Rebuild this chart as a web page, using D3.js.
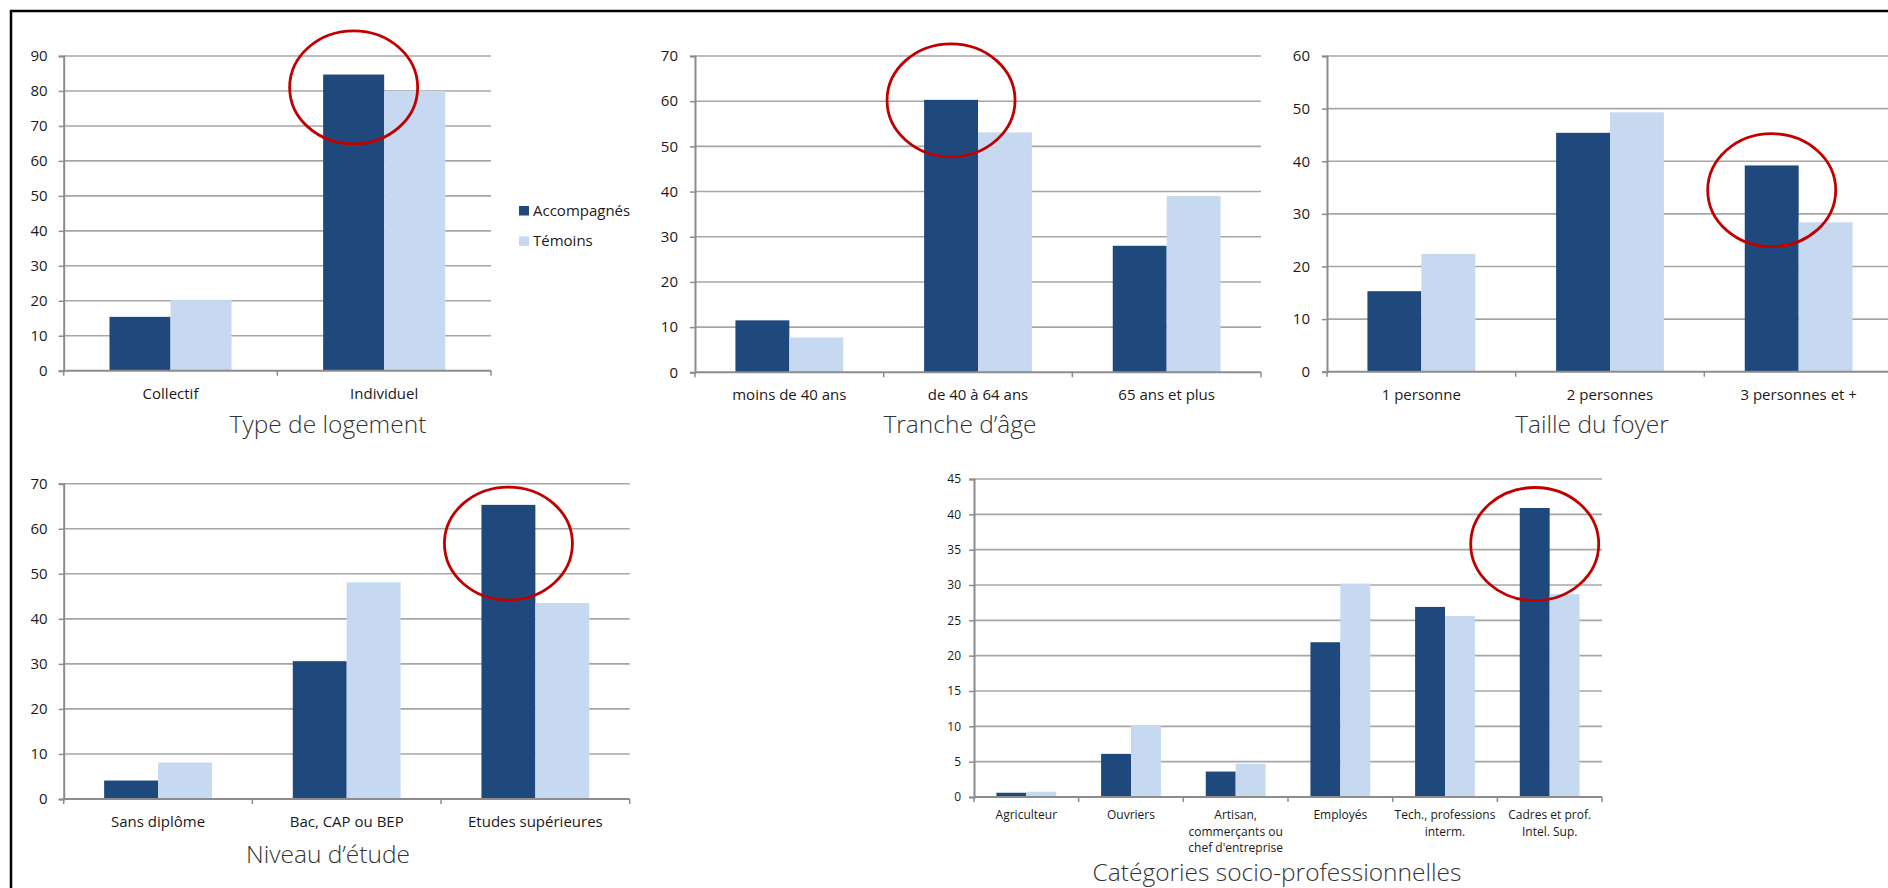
<!DOCTYPE html>
<html>
<head>
<meta charset="utf-8">
<script src="https://cdn.jsdelivr.net/npm/d3@7"></script>
<style>
  html, body { margin: 0; padding: 0; background: #fff; }
  svg { display: block; }
  text { font-family: "Open Sans", "Noto Sans", sans-serif; }
</style>
</head>
<body>
<svg id="chart" width="1888" height="888"></svg>
<script>
// ---------- DATA ----------
const seriesNames = ["Accompagnés", "Témoins"];

const logementCats = ["Collectif", "Individuel"];
const logementAcc  = [15.4, 84.7];
const logementTem  = [20.2, 80.0];
const logementTicks = [0, 10, 20, 30, 40, 50, 60, 70, 80, 90];

const ageCats = ["moins de 40 ans", "de 40 à 64 ans", "65 ans et plus"];
const ageAcc  = [11.5, 60.3, 28.0];
const ageTem  = [7.7, 53.1, 39.0];
const ageTicks = [0, 10, 20, 30, 40, 50, 60, 70];

const foyerCats = ["1 personne", "2 personnes", "3 personnes et +"];
const foyerAcc  = [15.3, 45.4, 39.2];
const foyerTem  = [22.4, 49.3, 28.4];
const foyerTicks = [0, 10, 20, 30, 40, 50, 60];

const etudeCats = ["Sans diplôme", "Bac, CAP ou BEP", "Etudes supérieures"];
const etudeAcc  = [4.1, 30.6, 65.3];
const etudeTem  = [8.1, 48.1, 43.5];
const etudeTicks = [0, 10, 20, 30, 40, 50, 60, 70];

const cspCats = ["Agriculteur", "Ouvriers", "Artisan,\ncommerçants ou\nchef d'entreprise", "Employés", "Tech., professions\ninterm.", "Cadres et prof.\nIntel. Sup."];
const cspAcc  = [0.6, 6.1, 3.6, 21.9, 26.9, 40.9];
const cspTem  = [0.75, 10.1, 4.7, 30.2, 25.6, 28.7];
const cspTicks = [0, 5, 10, 15, 20, 25, 30, 35, 40, 45];

const panelTitles = ["Type de logement", "Tranche d’âge", "Taille du foyer", "Niveau d’étude", "Catégories socio-professionnelles"];

// highlighted category (red circle) and the value at the circle centre
const highlightCats   = ["Individuel", "de 40 à 64 ans", "3 personnes et +", "Etudes supérieures", "Cadres et prof.\nIntel. Sup."];
const highlightValues = [81.0, 60.2, 34.5, 56.7, 35.8];

// ---------- LAYOUT / STYLE ----------
const COLORS = ["#1f497d", "#c6d9f1"];
const GRID = "#a6a6a6";
const AXIS = "#8c8c8c";
const TEXT = "#1a1a1a";

const panels = [
  { cats: logementCats, vals: [logementAcc, logementTem], ticks: logementTicks, title: panelTitles[0],
    x0: 63.7, x1: 491, yTop: 56, yBot: 370.7, fs: 15, labGap: 16, titleX: 328, titleY: 433, hl: 0 },
  { cats: ageCats, vals: [ageAcc, ageTem], ticks: ageTicks, title: panelTitles[1],
    x0: 695, x1: 1261, yTop: 56, yBot: 372.3, fs: 15, labGap: 17, titleX: 960, titleY: 433, hl: 1 },
  { cats: foyerCats, vals: [foyerAcc, foyerTem], ticks: foyerTicks, title: panelTitles[2],
    x0: 1327, x1: 1893, yTop: 56, yBot: 371.7, fs: 15, labGap: 17, titleX: 1592, titleY: 433, hl: 2 },
  { cats: etudeCats, vals: [etudeAcc, etudeTem], ticks: etudeTicks, title: panelTitles[3],
    x0: 63.7, x1: 629.7, yTop: 483.7, yBot: 799, fs: 15, labGap: 16, titleX: 328, titleY: 863, hl: 3 },
  { cats: cspCats, vals: [cspAcc, cspTem], ticks: cspTicks, title: panelTitles[4],
    x0: 974, x1: 1602, yTop: 479, yBot: 797, fs: 12, labGap: 13, titleX: 1277, titleY: 881, hl: 4, lineH: 16.7, labOff: 22 }
];

const svg = d3.select("#chart");

// frame lines
svg.append("line").attr("x1", 10).attr("x2", 1888).attr("y1", 11).attr("y2", 11)
  .attr("stroke", "#000").attr("stroke-width", 2.5);
svg.append("line").attr("x1", 11).attr("x2", 11).attr("y1", 10).attr("y2", 888)
  .attr("stroke", "#000").attr("stroke-width", 2.5);

panels.forEach((p, pi) => {
  const g = svg.append("g");
  const yMax = p.ticks[p.ticks.length - 1];
  const y = d3.scaleLinear().domain([0, yMax]).range([p.yBot, p.yTop]);
  const x = d3.scaleBand().domain(p.cats).range([p.x0, p.x1]).paddingInner(0).paddingOuter(0);
  const xs = d3.scaleBand().domain(seriesNames).range([0, x.bandwidth()]).paddingInner(0).paddingOuter(0.75);

  // gridlines
  g.append("g").selectAll("line").data(p.ticks.filter(t => t > 0)).join("line")
    .attr("x1", p.x0).attr("x2", p.x1)
    .attr("y1", d => y(d)).attr("y2", d => y(d))
    .attr("stroke", GRID).attr("stroke-width", 1.6);

  // bars
  seriesNames.forEach((s, si) => {
    g.append("g").selectAll("rect").data(p.cats.map((c, i) => ({ c, v: p.vals[si][i] }))).join("rect")
      .attr("x", d => x(d.c) + xs(s))
      .attr("width", xs.bandwidth())
      .attr("y", d => y(d.v))
      .attr("height", d => y(0) - y(d.v))
      .attr("fill", COLORS[si]);
  });

  // y axis
  const yAxis = d3.axisLeft(y).tickValues(p.ticks).tickSize(5).tickPadding(p.labGap - 5).tickFormat(d3.format("d"));
  const ya = g.append("g").attr("transform", `translate(${p.x0},0)`).call(yAxis);
  ya.select(".domain").attr("stroke", AXIS).attr("stroke-width", 2);
  ya.selectAll(".tick line").attr("stroke", AXIS).attr("stroke-width", 1.5);
  ya.selectAll(".tick text").attr("fill", TEXT).style("font-size", p.fs + "px").style("font-family", "'Open Sans', sans-serif");

  // x axis baseline + ticks at band boundaries
  g.append("line").attr("x1", p.x0).attr("x2", p.x1).attr("y1", p.yBot).attr("y2", p.yBot)
    .attr("stroke", AXIS).attr("stroke-width", 2);
  const bounds = p.cats.map(c => x(c)).concat([p.x1]);
  g.append("g").selectAll("line").data(bounds).join("line")
    .attr("x1", d => d).attr("x2", d => d).attr("y1", p.yBot).attr("y2", p.yBot + 5)
    .attr("stroke", AXIS).attr("stroke-width", 1.5);

  // category labels
  const labOff = p.labOff || 28;
  const lineH = p.lineH || 18;
  p.cats.forEach(c => {
    const t = g.append("text")
      .attr("x", x(c) + x.bandwidth() / 2).attr("y", p.yBot + labOff)
      .attr("text-anchor", "middle").attr("fill", TEXT)
      .style("font-size", p.fs + "px");
    c.split("\n").forEach((line, li) => {
      t.append("tspan").attr("x", x(c) + x.bandwidth() / 2).attr("y", p.yBot + labOff + li * lineH).text(line);
    });
  });

  // title
  g.append("text").attr("x", p.titleX).attr("y", p.titleY)
    .attr("text-anchor", "middle").attr("fill", "#333")
    .style("font-size", "24.5px").style("font-weight", 300)
    .text(p.title);

  // red circle annotation
  const hc = highlightCats[p.hl];
  g.append("ellipse")
    .attr("cx", x(hc) + xs(seriesNames[0]) + xs.bandwidth() / 2)
    .attr("cy", y(highlightValues[p.hl]))
    .attr("rx", 64).attr("ry", 56.5)
    .attr("fill", "none").attr("stroke", "#c00000").attr("stroke-width", 2.8);
});

// legend (first panel)
const legend = svg.append("g");
seriesNames.forEach((s, i) => {
  legend.append("rect").attr("x", 519).attr("y", 206 + i * 30.5).attr("width", 10).attr("height", 9.5).attr("fill", COLORS[i]);
  legend.append("text").attr("x", 533).attr("y", 215.5 + i * 30.5).attr("fill", TEXT)
    .style("font-size", "15px").text(s);
});
</script>
</body>
</html>
